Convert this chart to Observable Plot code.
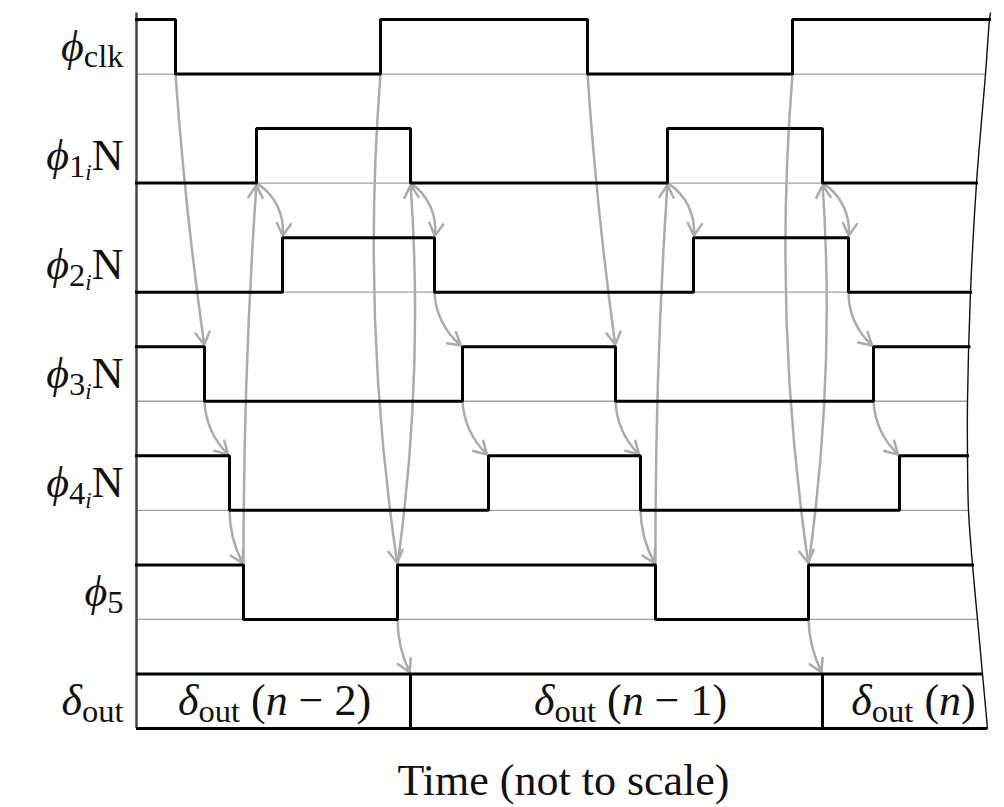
<!DOCTYPE html>
<html><head><meta charset="utf-8">
<script src="https://cdn.jsdelivr.net/npm/d3@7"></script>
<script src="https://cdn.jsdelivr.net/npm/@observablehq/plot@0.6"></script>
<style>body{margin:0;background:#fff} svg text{white-space:pre}</style>
</head><body><div id="chart"></div>
<script>
// ---- data (time in arbitrary units, not to scale) ----
const signalLabels = ["mϕ|sclk", "mϕ|s1|ui|rN", "mϕ|s2|ui|rN", "mϕ|s3|ui|rN", "mϕ|s4|ui|rN", "mϕ|s5"];
const outputLabel = "mδ|sout";
const initialState = [1, 0, 0, 1, 1, 1];
const transitions = [
  [39, 244, 451, 656],   // phi_clk
  [120, 274, 531, 686],  // phi_1iN
  [146, 298, 557, 712],  // phi_2iN
  [68, 326, 479, 737],   // phi_3iN
  [93, 352, 504, 763],   // phi_4iN
  [107, 261, 519, 672]   // phi_5
];
const outputChanges = [274, 686];
const outputWords = ["mδ|sout|r (|mn|r − 2)", "mδ|sout|r (|mn|r − 1)", "mδ|sout|r (|mn|r)"];
const outputWordTimes = [138, 494, 777];
const cutEdgeLevel = [0.56, 0.5, 0, -1, -2, -3, -3.5, -4, -4.5, -5, -5.5, -6];
const cutEdgeTime = [854, 853, 849, 840, 834, 831, 831, 832, 836, 841, 846, 851];
// causal arrows: from [row, edge, high?] to [row, edge, high?], bend (deg)
const causeFrom = [
  [0,0,0],[3,0,0],[4,0,0],[5,0,1],[1,0,0],[0,1,0],[5,1,1],[1,1,0],[2,1,0],[3,1,0],[5,1,0],
  [0,2,0],[3,2,0],[4,2,0],[5,2,1],[1,2,0],[0,3,0],[5,3,1],[1,3,0],[2,3,0],[3,3,0],[5,3,0]
];
const causeTo = [
  [3,0,1],[4,0,1],[5,0,1],[1,0,0],[2,0,1],[5,1,1],[1,1,0],[2,1,1],[3,1,1],[4,1,1],[6,0,1],
  [3,2,1],[4,2,1],[5,2,1],[1,2,0],[2,2,1],[5,3,1],[1,3,0],[2,3,1],[3,3,1],[4,3,1],[6,1,1]
];
const causeBend = [-2,-22,-14,2,33,-6.5,-6,33,-25,-22,-13, -2,-22,-14,2,33,-6.5,-6,33,-25,-22,-13];
const xLabel = "Time (not to scale)";

// ---- helpers ----
const level = (row, high) => -row + (high ? 0.5 : 0);
const edgeAt = (v) => {
  for (let k = 0; k < cutEdgeLevel.length - 1; k++) {
    const a = cutEdgeLevel[k], b = cutEdgeLevel[k + 1];
    if (v <= a && v >= b) return cutEdgeTime[k] + (cutEdgeTime[k + 1] - cutEdgeTime[k]) * (v - a) / (b - a);
  }
  return cutEdgeTime[cutEdgeTime.length - 1];
};
const edgeTime = (row, e) => row < 6 ? transitions[row][e] : outputChanges[e];

const signalPoints = transitions.flatMap((ts, i) => {
  let s = initialState[i];
  const pts = [{row: i, t: 0, v: level(i, s)}];
  for (const t of ts) {
    pts.push({row: i, t, v: level(i, s)});
    s = 1 - s;
    pts.push({row: i, t, v: level(i, s)});
  }
  pts.push({row: i, t: edgeAt(level(i, s)), v: level(i, s)});
  return pts;
});
const cutPoints = cutEdgeLevel.map((v, k) => ({v, t: cutEdgeTime[k]}));
const baselines = signalLabels.map((_, i) => ({v: level(i, 0)}));
const arrows = causeFrom.map((f, k) => {
  const g = causeTo[k];
  return {x1: edgeTime(f[0], f[1]), y1: level(f[0], f[2]), x2: edgeTime(g[0], g[1]), y2: level(g[0], g[2]), bend: causeBend[k]};
});
const rowLabels = [...signalLabels, outputLabel].map((text, i) => ({text, v: level(i, 0) + 0.25}));
const boxLabels = outputWords.map((text, k) => ({text, t: outputWordTimes[k], v: -5.75}));

const SERIF = "'Liberation Serif', 'DejaVu Serif', serif";
const FS = 44;

const chart = Plot.plot({
  width: 1004, height: 807,
  marginLeft: 136, marginRight: 14, marginTop: 12, marginBottom: 27,
  x: {domain: [0, 854], range: [136, 990], axis: null},
  y: {domain: [-6, 0.5], range: [728, 19], axis: null},
  marks: [
    Plot.ruleY(baselines, {y: "v", x1: 0, x2: d => edgeAt(d.v), stroke: "#a0a0a0", strokeWidth: 1.3}),
    ...arrows.map(a => Plot.arrow([a], {x1: "x1", y1: "y1", x2: "x2", y2: "y2", bend: a.bend,
      stroke: "#ababab", strokeWidth: 2.5, headLength: 8.5, headAngle: 60, insetEnd: 2})),
    Plot.ruleX([0], {y1: -6, y2: 0.56, stroke: "#444", strokeWidth: 2.5}),
    Plot.line(cutPoints, {x: "t", y: "v", stroke: "#111", strokeWidth: 1.4, curve: "catmull-rom"}),
    Plot.ruleY([-5.5, -6], {y: d => d, x1: 0, x2: d => edgeAt(d), stroke: "#000", strokeWidth: 3}),
    Plot.ruleX(outputChanges, {x: d => d, y1: -6, y2: -5.5, stroke: "#000", strokeWidth: 3}),
    Plot.line(signalPoints, {x: "t", y: "v", z: "row", stroke: "#000", strokeWidth: 3,
      strokeLinejoin: "miter", strokeLinecap: "square"}),
    Plot.text(rowLabels, {x: 0, y: "v", text: "text", textAnchor: "end", dx: -13,
      fontSize: FS, fontFamily: SERIF, fill: "#111"}),
    Plot.text(boxLabels, {x: "t", y: "v", text: "text", textAnchor: "middle",
      fontSize: FS, fontFamily: SERIF, fill: "#111"}),
    Plot.text([xLabel], {frameAnchor: "bottom", lineAnchor: "middle", text: d => d,
      fontSize: 44, fontFamily: SERIF, fill: "#111"})
  ]
});

// turn the "code|code" label strings into math-style tspans (subscripts)
const styles = {
  m: {size: 1, italic: true, shift: 0},
  r: {size: 1, italic: false, shift: 0},
  s: {size: 0.74, italic: false, shift: 0.15},
  u: {size: 0.52, italic: true, shift: 0.24}
};
d3.select(chart).selectAll("text").each(function () {
  const s = this.textContent;
  if (!s.includes("|")) return;
  const el = d3.select(this);
  el.text(null);
  let cur = 0;
  for (const tok of s.split("|")) {
    const st = styles[tok[0]];
    const shift = st.shift * FS;
    el.append("tspan")
      .attr("dy", shift - cur)
      .attr("font-size", st.size * FS)
      .attr("font-style", st.italic ? "italic" : "normal")
      .text(tok.slice(1));
    cur = shift;
  }
});

document.getElementById("chart").appendChild(chart);
</script>
</body></html>
